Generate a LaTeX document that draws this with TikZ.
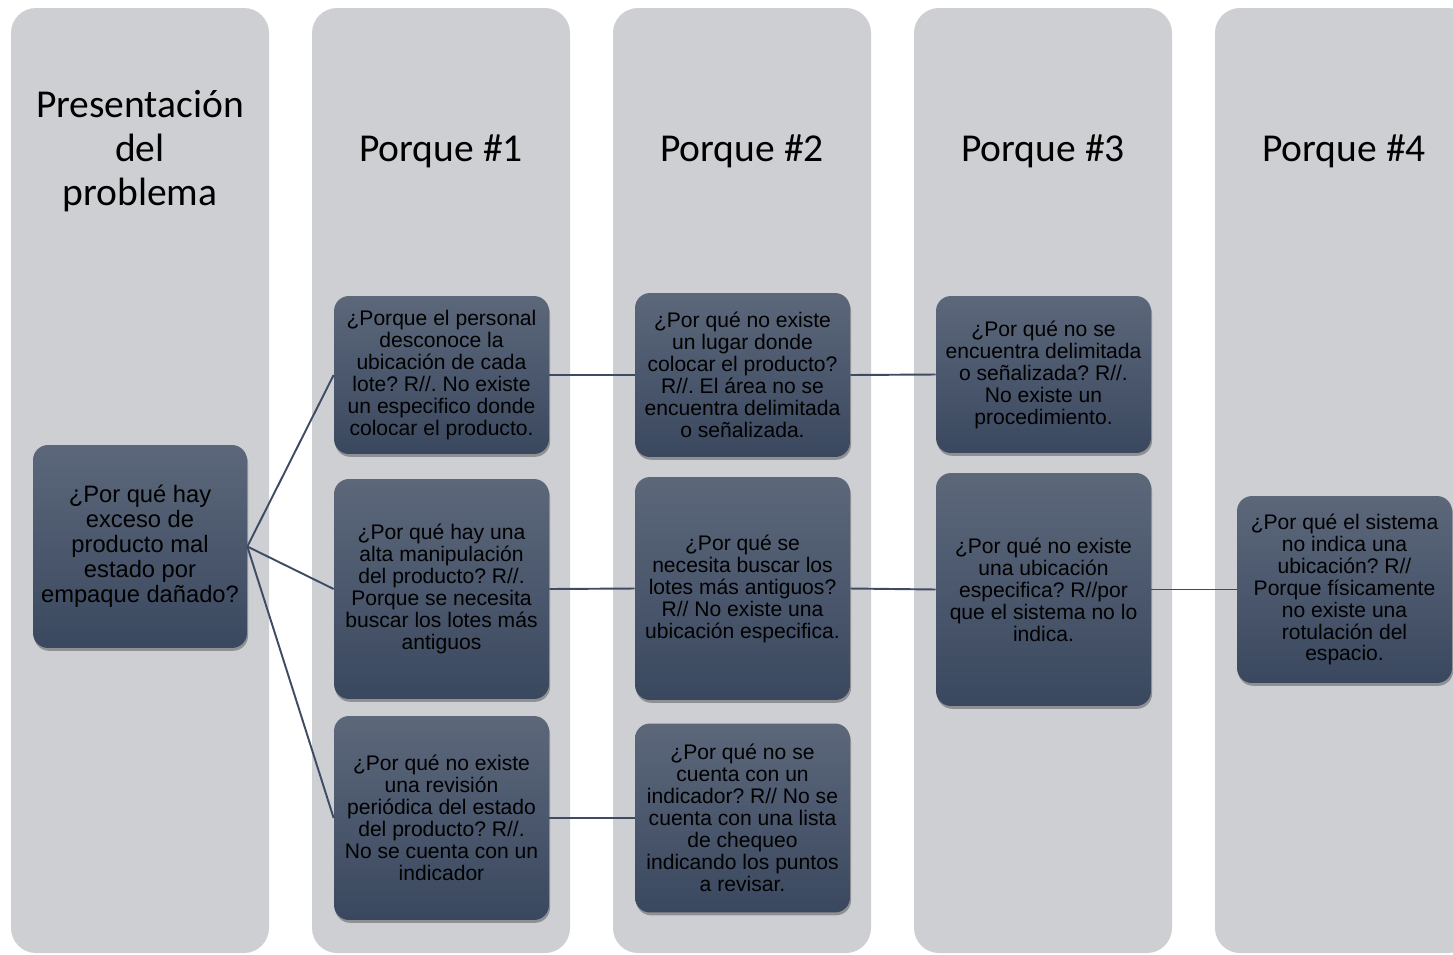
\documentclass[tikz,border=0pt]{standalone}
\usepackage{fontspec}
\setmainfont{Liberation Sans}
\newfontfamily\titlefont{Carlito}
\usetikzlibrary{shapes, positioning, shadows}
\frenchspacing

\definecolor{lanegray}{HTML}{CECFD3}
\definecolor{boxtop}{HTML}{5C677A}
\definecolor{boxbottom}{HTML}{3A485F}
\definecolor{linkcol}{HTML}{3E4C63}

\begin{document}
\begin{tikzpicture}[
        x=0.02cm, y=-0.02cm,
        lane/.style={fill=lanegray, rounded corners=0.5cm},
        lanetitle/.style={align=center, inner sep=0pt,
          font=\titlefont\fontsize{22.5}{25}\selectfont},
        why/.style={rectangle, rounded corners=0.3cm, top color=boxtop,
          bottom color=boxbottom, draw=none, align=center, inner sep=0pt,
          minimum width=4.3cm, text=black,
          font=\fontsize{12}{12.5}\selectfont,
          drop shadow={shadow xshift=0.6pt, shadow yshift=-1.6pt,
            opacity=0.3, fill=black}},
        link/.style={draw=linkcol, line width=1.1pt}
      ]
      \useasboundingbox (0,0) rectangle (1453,954);
      \begin{scope}
        \clip (0,0) rectangle (1453,954);
        \foreach \lx in {11,312,613,914,1215}
          \fill[lane] (\lx,8) rectangle ++(258,945);
      \end{scope}

      \node[lanetitle] (t0) at (140,151) {Presentación\\del\\problema};
      \node[lanetitle] (t1) at (441,151) {Porque \#1};
      \node[lanetitle] (t2) at (742,151) {Porque \#2};
      \node[lanetitle] (t3) at (1043,151) {Porque \#3};
      \node[lanetitle] (t4) at (1344,151) {Porque \#4};

      \node[why, minimum width=4.28cm, minimum height=4.06cm,
        font=\fontsize{13.5}{14.2}\selectfont] (prob) at (140,546.5)
        {¿Por qué hay\\exceso de\\producto mal\\estado por\\empaque dañado?};

      \node[why, minimum height=3.16cm] (b11) at (441.5,375)
        {¿Porque el personal\\desconoce la\\ubicación de cada\\lote? R//. No existe\\un especifico donde\\colocar el producto.};
      \node[why, minimum height=4.4cm] (b12) at (441.5,589)
        {¿Por qué hay una\\alta manipulación\\del producto? R//.\\Porque se necesita\\buscar los lotes más\\antiguos};
      \node[why, minimum height=4.08cm] (b13) at (441.5,818)
        {¿Por qué no existe\\una revisión\\periódica del estado\\del producto? R//.\\No se cuenta con un\\indicador};

      \node[why, minimum height=3.28cm] (b21) at (742.5,375)
        {¿Por qué no existe\\un lugar donde\\colocar el producto?\\R//. El área no se\\encuentra delimitada\\o señalizada.};
      \node[why, minimum height=4.46cm] (b22) at (742.5,588.5)
        {¿Por qué se\\necesita buscar los\\lotes más antiguos?\\R// No existe una\\ubicación especifica.};
      \node[why, minimum height=3.78cm] (b23) at (742.5,818)
        {¿Por qué no se\\cuenta con un\\indicador? R// No se\\cuenta con una lista\\de chequeo\\indicando los puntos\\a revisar.};

      \node[why, minimum height=3.14cm] (b31) at (1043.5,374.5)
        {¿Por qué no se\\encuentra delimitada\\o señalizada? R//.\\No existe un\\procedimiento.};
      \node[why, minimum height=4.66cm] (b32) at (1043.5,589.5)
        {¿Por qué no existe\\una ubicación\\especifica? R//por\\que el sistema no lo\\indica.};

      \node[why, minimum height=3.74cm] (b41) at (1344.5,589.5)
        {¿Por qué el sistema\\no indica una\\ubicación? R//\\Porque físicamente\\no existe una\\rotulación del\\espacio.};

      \draw[link] (prob.east) -- (b11.west);
      \draw[link] (prob.east) -- (b12.west);
      \draw[link] (prob.east) -- (b13.west);
      \draw[link] (b11.east) -- (b21.west);
      \draw[link] (b12.east) -- (b22.west);
      \draw[link] (b13.east) -- (b23.west);
      \draw[link] (b21.east) -- (b31.west);
      \draw[link] (b22.east) -- (b32.west);
      \draw[link] (b32.east) -- (b41.west);
      \end{tikzpicture}
\end{document}
